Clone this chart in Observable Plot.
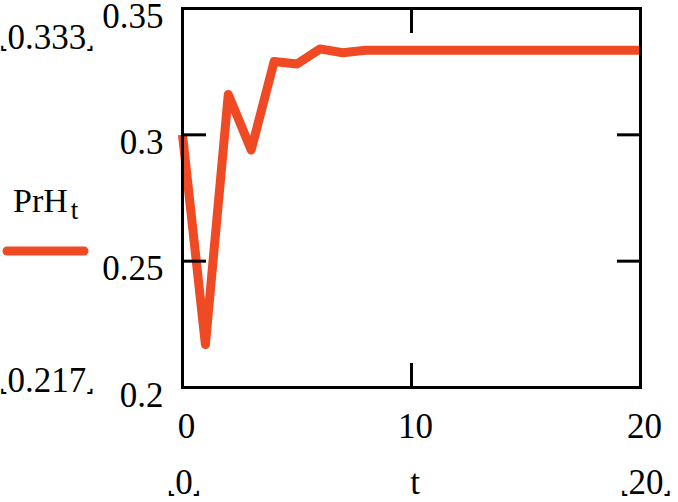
<!DOCTYPE html>
<html>
<head>
<meta charset="utf-8">
<script src="https://cdn.jsdelivr.net/npm/d3@7"></script>
<script src="https://cdn.jsdelivr.net/npm/@observablehq/plot@0.6"></script>
<style>
  html, body { margin: 0; padding: 0; background: #fff; }
  #chart { position: relative; width: 678px; height: 502px; }
</style>
</head>
<body>
<div id="chart"></div>
<script>
const t = [0,1,2,3,4,5,6,7,8,9,10,11,12,13,14,15,16,17,18,19,20];
const prH = [0.300,0.217,0.316,0.294,0.329,0.328,0.334,0.3325,0.3335,0.3335,0.3335,0.3335,0.3335,0.3335,0.3335,0.3335,0.3335,0.3335,0.3335,0.3335,0.3335];
const yTicks = [0.2, 0.25, 0.3, 0.35];
const yInnerTicks = [0.25, 0.3];
const xTicks = [0, 10, 20];
const xInnerTicks = [10];
const seriesName = "PrH";
const seriesSub = "t";
const xName = "t";
const yRangeLabels = ["0.333", "0.217"];
const xRangeLabels = ["0", "20"];

const data = t.map((v, i) => ({t: v, p: prH[i]}));
const col = "#EF4A24";
const serif = "'Liberation Serif', 'Times New Roman', serif";

const chart = Plot.plot({
  width: 678,
  height: 502,
  marginLeft: 182,
  marginRight: 38,
  marginTop: 8,
  marginBottom: 115,
  style: {fontFamily: serif, fontSize: "35px", background: "#fff", color: "#000", overflow: "visible"},
  x: {domain: [0, 20]},
  y: {domain: [0.2, 0.35]},
  marks: [
    Plot.line(data, {x: "t", y: "p", stroke: col, strokeWidth: 9, strokeLinejoin: "round", strokeLinecap: "butt"}),
    Plot.axisY({anchor: "left", ticks: yInnerTicks, tickSize: -24, tickFormat: () => "", strokeWidth: 3, label: null}),
    Plot.axisY({anchor: "right", ticks: yInnerTicks, tickSize: -24, tickFormat: () => "", strokeWidth: 3, label: null}),
    Plot.axisX({anchor: "bottom", ticks: xInnerTicks, tickSize: -24, tickFormat: () => "", strokeWidth: 3, label: null}),
    Plot.axisX({anchor: "top", ticks: xInnerTicks, tickSize: -24, tickFormat: () => "", strokeWidth: 3, label: null}),
    Plot.axisY({anchor: "left", ticks: yTicks, tickSize: 0, tickPadding: 19, dy: 8, fontSize: 35, tickFormat: d => String(d), label: null}),
    Plot.axisX({anchor: "bottom", ticks: xTicks, tickSize: 0, tickPadding: 26, dx: 4, fontSize: 35, tickFormat: d => String(d), label: null}),
    Plot.frame({stroke: "#000", strokeWidth: 3})
  ]
});
document.getElementById("chart").appendChild(chart);

const svg = d3.select(chart);
const g = svg.append("g").attr("font-family", serif).attr("fill", "#000").attr("text-anchor", "start");

// legend
g.append("line").attr("x1", 7).attr("x2", 84).attr("y1", 251).attr("y2", 251)
  .attr("stroke", col).attr("stroke-width", 9).attr("stroke-linecap", "round");
const lt = g.append("text").attr("x", 13).attr("y", 212).attr("font-size", 34);
lt.append("tspan").text(seriesName);
lt.append("tspan").attr("dx", 3).attr("dy", 7).attr("font-size", 27).text(seriesSub);

// corner-bracket labels
function bracket(x, y, txt, anchor) {
  const el = g.append("text").attr("x", x).attr("y", y).attr("font-size", 35).attr("text-anchor", anchor);
  el.append("tspan").attr("font-family", "DejaVu Sans").attr("font-weight", "bold").attr("font-size", 16).text("\u231E");
  el.append("tspan").text(txt);
  el.append("tspan").attr("font-family", "DejaVu Sans").attr("font-weight", "bold").attr("font-size", 16).text("\u231F");
}
bracket(0, 49, yRangeLabels[0], "start");
bracket(0, 392, yRangeLabels[1], "start");
bracket(184, 494, xRangeLabels[0], "middle");
bracket(646, 494, xRangeLabels[1], "middle");
g.append("text").attr("x", 415).attr("y", 494).attr("font-size", 35).attr("text-anchor", "middle").text(xName);
</script>
</body>
</html>
